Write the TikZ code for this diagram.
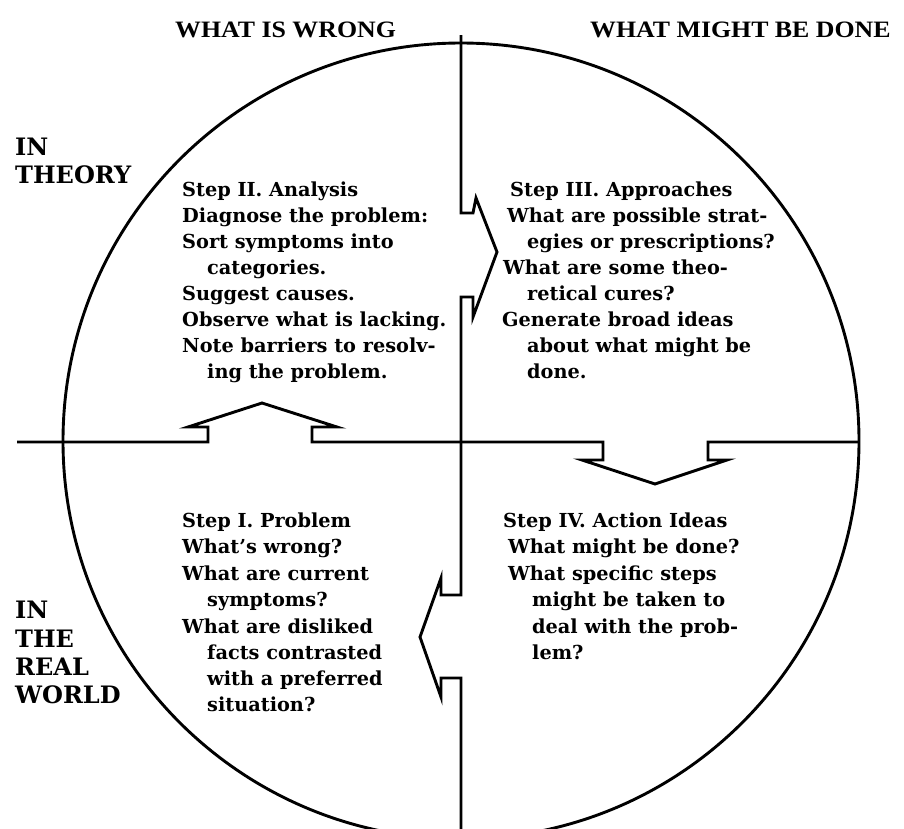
\documentclass[tikz,border=0pt]{standalone}
\usepackage{fontspec}
\setmainfont{DejaVu Serif}
\newfontfamily\hdfont[FakeStretch=1.1]{Liberation Serif}
\begin{document}
\begin{tikzpicture}[x=1pt,y=-1pt,
  rule/.style={line width=2.9pt, line join=miter, miter limit=20},
  txt/.style={anchor=base west, inner sep=0pt, font=\fontsize{19.3}{26}\selectfont\bfseries},
  side/.style={anchor=base west, inner sep=0pt, font=\fontsize{24}{28}\selectfont\bfseries},
  hd/.style={anchor=base west, inner sep=0pt, font=\hdfont\fontsize{23.5}{26}\selectfont\bfseries}]
\useasboundingbox (0,0) rectangle (904,828);
% circle
\node[circle, draw, line width=2.9pt, minimum size=796pt, inner sep=0pt] (wheel) at (461,441) {};
% headers
\node[hd] (hwrong) at (175,37) {WHAT IS WRONG};
\node[hd] (hdone) at (590,37) {WHAT MIGHT BE DONE};
% side labels
\node[side] (th1) at (15,155) {IN};
\node[side] (th2) at (15,183) {THEORY};
\node[side] (rw1) at (15,618) {IN};
\node[side] (rw2) at (15,647) {THE};
\node[side] (rw3) at (15,675) {REAL};
\node[side] (rw4) at (15,703) {WORLD};
% vertical divider with arrows
\draw[rule] (461,35) -- (461,213) -- (473,213) -- (476,198) -- (497,252) -- (473,317) -- (473,297) -- (461,297)
  -- (461,595) -- (441,595) -- (441,578) -- (420,637) -- (441,697) -- (441,678) -- (461,678) -- (461,832);
% horizontal divider with arrows
\draw[rule] (17,442) -- (208,442) -- (208,427) -- (188,427) -- (262,403) -- (337,427) -- (312,427) -- (312,442)
  -- (603,442) -- (603,460) -- (582,460) -- (655,484) -- (727,460) -- (708,460) -- (708,442) -- (859,442);
% Step II
\foreach \x/\y/\t [count=\i] in {182/196/{Step II. Analysis}, 182/222/{Diagnose the problem:},
  182/248/{Sort symptoms into}, 207/274/{categories.}, 182/300/{Suggest causes.},
  182/326/{Observe what is lacking.}, 182/352/{Note barriers to resolv-}, 207/378/{ing the problem.}}
  \node[txt] (two\i) at (\x,\y) {\t};
% Step III
\foreach \x/\y/\t [count=\i] in {510/196/{Step III. Approaches}, 507/222/{What are possible strat-},
  527/248/{egies or prescriptions?}, 503/274/{What are some theo-}, 527/300/{retical cures?},
  502/326/{Generate broad ideas}, 527/352/{about what might be}, 527/378/{done.}}
  \node[txt] (three\i) at (\x,\y) {\t};
% Step I
\foreach \x/\y/\t [count=\i] in {182/527/{Step I. Problem}, 182/553/{What’s wrong?},
  182/580/{What are current}, 207/606/{symptoms?}, 182/633/{What are disliked},
  207/659/{facts contrasted}, 207/685/{with a preferred}, 207/711/{situation?}}
  \node[txt] (one\i) at (\x,\y) {\t};
% Step IV
\foreach \x/\y/\t [count=\i] in {503/527/{Step IV. Action Ideas}, 508/553/{What might be done?},
  508/580/{What specific steps}, 532/606/{might be taken to}, 532/633/{deal with the prob-},
  532/659/{lem?}}
  \node[txt] (four\i) at (\x,\y) {\t};
\end{tikzpicture}
\end{document}
